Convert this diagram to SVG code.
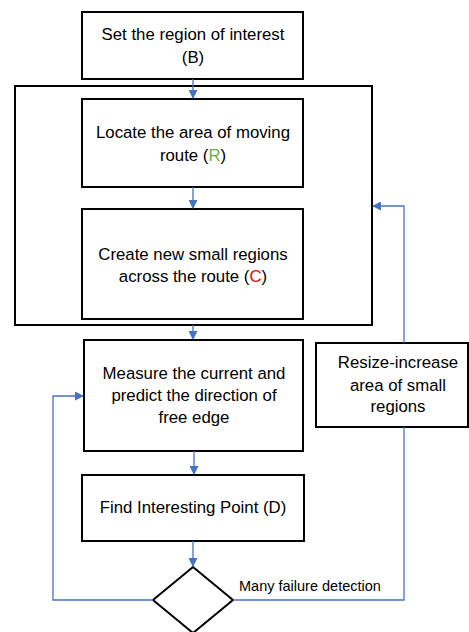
<svg xmlns="http://www.w3.org/2000/svg" width="469" height="632" viewBox="0 0 469 632">
<style>
.box{fill:#fff;stroke:#000;stroke-width:2}
.t{font-family:"Liberation Sans",Arial,sans-serif;font-size:16.8px;fill:#000;text-anchor:middle}
.lbl{font-family:"Liberation Sans",Arial,sans-serif;font-size:14.5px;fill:#000}
.c{fill:none;stroke:#4472C4;stroke-width:1.3}
</style>
<defs>
<marker id="ah" markerWidth="9" markerHeight="9" refX="8" refY="4.5" orient="auto" markerUnits="userSpaceOnUse">
<path d="M0,0 L9,4.5 L0,9 z" fill="#4472C4"/>
</marker>
</defs>
<rect width="469" height="632" fill="#fff"/>
<g id="container"><rect class="box" x="15" y="86" width="357" height="239"/></g>
<g id="n1"><rect class="box" x="82" y="12" width="221" height="67"/>
<text class="t" x="193" y="40">Set the region of interest</text>
<text class="t" x="193" y="63">(B)</text></g>
<g id="n2"><rect class="box" x="82" y="99" width="221" height="88"/>
<text class="t" x="193" y="138">Locate the area of moving</text>
<text class="t" x="193" y="161">route (<tspan fill="#70AD47">R</tspan>)</text></g>
<g id="n3"><rect class="box" x="82" y="209" width="221" height="110"/>
<text class="t" x="193" y="260">Create new small regions</text>
<text class="t" x="193" y="282">across the route (<tspan fill="#FF0000">C</tspan>)</text></g>
<g id="n4"><rect class="box" x="84" y="340" width="219" height="111"/>
<text class="t" x="194" y="379">Measure the current and</text>
<text class="t" x="194" y="401">predict the direction of</text>
<text class="t" x="194" y="423">free edge</text></g>
<g id="n5"><rect class="box" x="316" y="343" width="152" height="84"/>
<text class="t" x="398" y="368">Resize-increase</text>
<text class="t" x="398" y="391">area of small</text>
<text class="t" x="398" y="412">regions</text></g>
<g id="n6"><rect class="box" x="82" y="475" width="222" height="66"/>
<text class="t" x="193" y="513">Find Interesting Point (D)</text></g>
<g id="n7"><polygon class="box" points="193,567 233,600 193,633 153,600"/></g>
<g id="connectors">
<line class="c" x1="193" y1="79" x2="193" y2="98" marker-end="url(#ah)"/>
<line class="c" x1="193" y1="187" x2="193" y2="208" marker-end="url(#ah)"/>
<line class="c" x1="193" y1="325" x2="193" y2="339" marker-end="url(#ah)"/>
<line class="c" x1="194" y1="451" x2="194" y2="474" marker-end="url(#ah)"/>
<line class="c" x1="193" y1="541" x2="193" y2="566" marker-end="url(#ah)"/>
<polyline class="c" points="153,600 53,600 53,396 83,396" marker-end="url(#ah)"/>
<polyline class="c" points="233,600 404,600 404,427"/>
<polyline class="c" points="404,343 404,206 373,206" marker-end="url(#ah)"/>
<text class="lbl" x="239" y="591">Many failure detection</text>
</g>
</svg>
